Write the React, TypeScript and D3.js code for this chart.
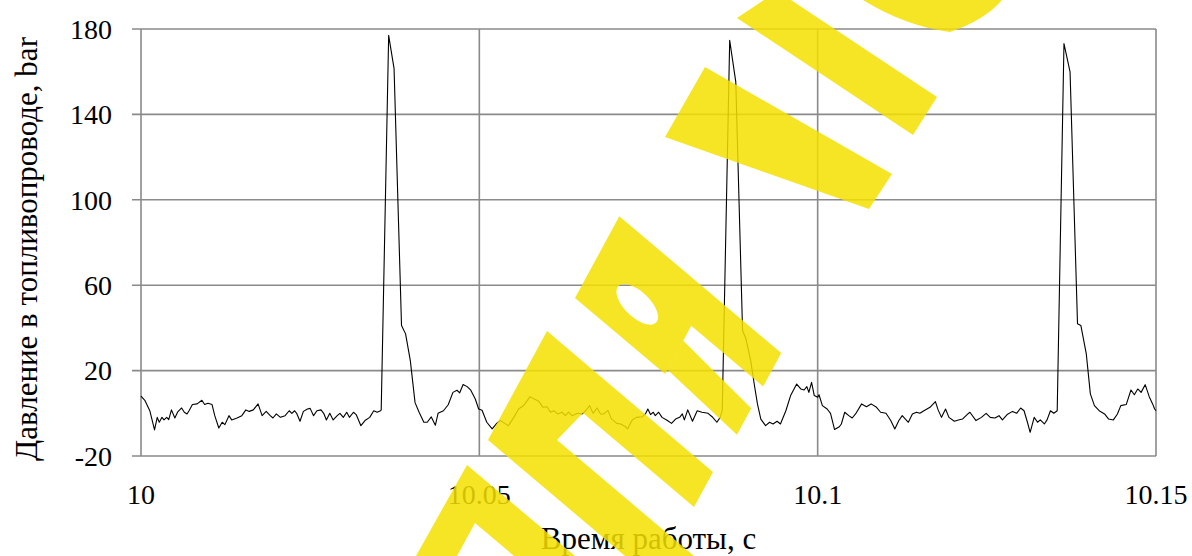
import React from 'react';
import * as d3 from 'd3';

// time, s
const times = [
  10.0000, 10.0006, 10.0013, 10.0020, 10.0024, 10.0027, 10.0031, 10.0034, 10.0038, 10.0041,
  10.0045, 10.0050, 10.0054, 10.0060, 10.0064, 10.0068, 10.0071, 10.0076, 10.0083, 10.0090,
  10.0094, 10.0099, 10.0105, 10.0109, 10.0115, 10.0120, 10.0124, 10.0130, 10.0134, 10.0142,
  10.0149, 10.0155, 10.0160, 10.0166, 10.0173, 10.0179, 10.0185, 10.0191, 10.0195, 10.0200,
  10.0206, 10.0213, 10.0219, 10.0223, 10.0227, 10.0230, 10.0235, 10.0240, 10.0246, 10.0250,
  10.0255, 10.0260, 10.0266, 10.0270, 10.0274, 10.0279, 10.0284, 10.0290, 10.0294, 10.0299,
  10.0304, 10.0308, 10.0314, 10.0318, 10.0325, 10.0331, 10.0338, 10.0344, 10.0349, 10.0354,
  10.0355, 10.0366, 10.0374, 10.0385, 10.0391, 10.0398, 10.0405, 10.0411, 10.0418, 10.0423,
  10.0429, 10.0435, 10.0439, 10.0447, 10.0454, 10.0461, 10.0467, 10.0471, 10.0476, 10.0482,
  10.0487, 10.0494, 10.0499, 10.0504, 10.0511, 10.0519, 10.0526, 10.0531, 10.0537, 10.0543,
  10.0551, 10.0558, 10.0566, 10.0575, 10.0581, 10.0588, 10.0594, 10.0600, 10.0605, 10.0610,
  10.0616, 10.0622, 10.0627, 10.0632, 10.0637, 10.0645, 10.0652, 10.0657, 10.0663, 10.0668,
  10.0674, 10.0679, 10.0684, 10.0690, 10.0695, 10.0703, 10.0709, 10.0716, 10.0719, 10.0726,
  10.0732, 10.0741, 10.0746, 10.0749, 10.0753, 10.0757, 10.0760, 10.0765, 10.0770, 10.0778,
  10.0784, 10.0790, 10.0796, 10.0800, 10.0803, 10.0808, 10.0815, 10.0822, 10.0829, 10.0838,
  10.0844, 10.0851, 10.0856, 10.0859, 10.0870, 10.0879, 10.0889, 10.0894, 10.0901, 10.0907,
  10.0911, 10.0916, 10.0923, 10.0929, 10.0934, 10.0940, 10.0945, 10.0953, 10.0960, 10.0969,
  10.0975, 10.0980, 10.0984, 10.0987, 10.0991, 10.0995, 10.1000, 10.1002, 10.1007, 10.1014,
  10.1019, 10.1025, 10.1032, 10.1035, 10.1040, 10.1046, 10.1051, 10.1056, 10.1065, 10.1072,
  10.1079, 10.1087, 10.1093, 10.1101, 10.1108, 10.1114, 10.1120, 10.1125, 10.1134, 10.1140,
  10.1146, 10.1151, 10.1157, 10.1166, 10.1174, 10.1178, 10.1183, 10.1189, 10.1194, 10.1202,
  10.1208, 10.1214, 10.1222, 10.1225, 10.1234, 10.1242, 10.1249, 10.1255, 10.1262, 10.1268,
  10.1273, 10.1280, 10.1288, 10.1294, 10.1300, 10.1305, 10.1310, 10.1314, 10.1320, 10.1325,
  10.1329, 10.1335, 10.1339, 10.1344, 10.1349, 10.1354, 10.1364, 10.1373, 10.1384, 10.1389,
  10.1397, 10.1403, 10.1409, 10.1416, 10.1424, 10.1430, 10.1437, 10.1443, 10.1448, 10.1456,
  10.1463, 10.1468, 10.1473, 10.1478, 10.1484, 10.1490, 10.1495, 10.1498, 10.1500,
];

// pressure, bar
const pressure = [
  8, 5.9, 1.2, -7.8, -1.9, -4.2, -1.9, -3.1, -1.9, -3,
  1.6, -2.2, 0.5, 2.5, 0.5, -0.3, 1.2, 4.1, 4.4, 6.1,
  4.1, 4.7, 4.1, -1.1, -6.9, -4.2, -5.3, -1.1, -3.1, -2.2,
  -1.1, 1.6, 0.9, 1.6, 4.4, -1.1, 0.9, -1.1, -2.2, -0.3,
  -1.9, -1.1, 1.2, 0, 1.2, 0, -3.7, 0.9, 2, 2.3,
  -1.1, 1.2, 1.6, 0, -3.1, 0, -3.1, -1.1, 0, -1.9,
  0.5, -1.9, 0.5, -0.6, -5.8, -3.4, -1.9, 1.2, 0.5, 1.2,
  1.6, 177, 161.4, 41.1, 37.2, 24.7, 5, 0.5, -4.2, -4.2,
  -1.7, -5.6, 0, 1.2, 4, 9.8, 10.8, 9.6, 13.5, 12.5,
  11, 6.7, 2, 1.4, -4.2, -7.3, -4.6, -3.4, -4.6, -5.8,
  -1.9, 2, 3.8, 7.8, 6.7, 5.6, 2.8, 3.1, 0.5, 1.2,
  -0.3, 0.5, -1.1, 0.5, -1.1, 0, -0.3, 1.2, 3.6, 0,
  2.5, -0.3, -0.3, 1.4, -2.5, -4.7, -5, -6.3, -7.3, -3.1,
  -1.9, -1.6, 0, 2, -0.6, 0.5, -1.1, 0.5, -1.9, -3.4,
  -4.7, -2.7, -1.9, -0.3, -3.1, 1.6, -3.7, 1.2, 0.5, 0,
  -1.6, -4.2, -1.9, 1.5, 174.7, 155.2, 38.8, 34.9, 24.7, 12.2,
  4.4, -2.7, -5.8, -4.2, -5, -3.7, -5, 1.2, 8.3, 13.7,
  11.4, 10.9, 12.5, 9.8, 14.5, 8.3, 7.5, 8.7, 3.6, 2,
  0, -7.6, -6.3, -5, 0.5, -1.1, -2.2, -0.3, 4.4, 3.1,
  4.4, 2.8, 0.5, 0, -3.4, -7.3, -3.4, -1.1, -4.2, -0.3,
  0.5, 0, 1.2, 2.8, 5.5, 1.6, -1.9, 2, -1.9, -3.7,
  -3.1, -2.7, -0.3, 0.5, -3.4, -1.9, 0, -1.9, -2.2, -1.1,
  -3.1, -0.6, 0.9, 0, 2.5, 1.2, -4.2, -8.9, -1.9, -4.2,
  -3.1, -5, -3.1, 1.2, 0, 1.2, 173.2, 159.9, 41.9, 41.1,
  27.8, 9.1, 3.6, 1.2, -0.3, -2.7, -3.1, -0.3, 3.6, 4.1,
  10.9, 8.7, 11.4, 9.8, 13.4, 7.8, 4.4, 2, 1.2,
];

const yTicks = [-20, 20, 60, 100, 140, 180];
const xTicks = [10, 10.05, 10.1, 10.15];
const xTickLabels = ['10', '10.05', '10.1', '10.15'];

const xTitle = 'Время работы, с';
const yTitle = 'Давление в топливопроводе, bar';

const W = 1192;
const H = 556;
const margin = { top: 29, right: 36, bottom: 100, left: 141 };
const font = 'Liberation Serif, DejaVu Serif, serif';
const gridColor = '#8a8a8a';
const wmColor = '#f5e100';

// yellow watermark over the picture (page decoration, not data)
const wmShapes = [
  'M416,556L467,465L575,556L514,556L475,523L457,556Z',
  'M488,440L547,331L713,472L694,507L583,413L557,440L694,556L625,556Z',
  'M665,137L705,67L892,174L869,209Z',
  'M737,18L764,0L791,0L937,97L913,135Z',
  'M863,0L1002,0Q985,20 950,32Q905,26 863,0Z',
];

const App = () => {
  const innerW = W - margin.left - margin.right;
  const innerH = H - margin.top - margin.bottom;

  const x = d3.scaleLinear().domain([10, 10.15]).range([0, innerW]);
  const y = d3.scaleLinear().domain([-20, 180]).range([innerH, 0]);

  const data = times.map((t, i) => ({ t, v: pressure[i] }));
  const line = d3.line<{ t: number; v: number }>()
    .x(d => x(d.t))
    .y(d => y(d.v));

  return (
    <svg width={W} height={H} fontFamily={font}
      style={{ position: 'absolute', left: 0, top: 0, background: '#fff' }}>
      <g transform={`translate(${margin.left},${margin.top})`}>
        {yTicks.map(t => (
          <g key={t}>
            <line x1={-9} x2={innerW} y1={y(t)} y2={y(t)} stroke={gridColor} strokeWidth={1.6} />
            <text x={-29} y={y(t)} dy="0.35em" textAnchor="end" fontSize={28}>{t}</text>
          </g>
        ))}
        {xTicks.map((t, i) => (
          <g key={t}>
            <line x1={x(t)} x2={x(t)} y1={0} y2={innerH} stroke={gridColor} strokeWidth={1.6} />
            <text x={x(t)} y={innerH + 48} textAnchor="middle" fontSize={28}>{xTickLabels[i]}</text>
          </g>
        ))}
        <path d={line(data) || ''} fill="none" stroke="#000" strokeWidth={1.1} strokeLinejoin="round" />
        <text x={innerW / 2} y={innerH + 93} textAnchor="middle" fontSize={31}>{xTitle}</text>
      </g>
      <text transform="translate(37,249) rotate(-90)" textAnchor="middle" fontSize={31}>{yTitle}</text>
      <g fill={wmColor} opacity={0.85}>
        {wmShapes.map((d, i) => <path key={i} d={d} />)}
        {/* letter drawn in its own sheared frame */}
        <g transform="matrix(0.476,-0.879,0.764,0.645,575,298)">
          <path fillRule="evenodd"
            d="M55,0H93V212H55Z M0,0H55V118H0Z M36,33a13,26 0 1,0 0.01,0Z M5,118H38L30,212H0Z" />
        </g>
      </g>
    </svg>
  );
};

export default App;
